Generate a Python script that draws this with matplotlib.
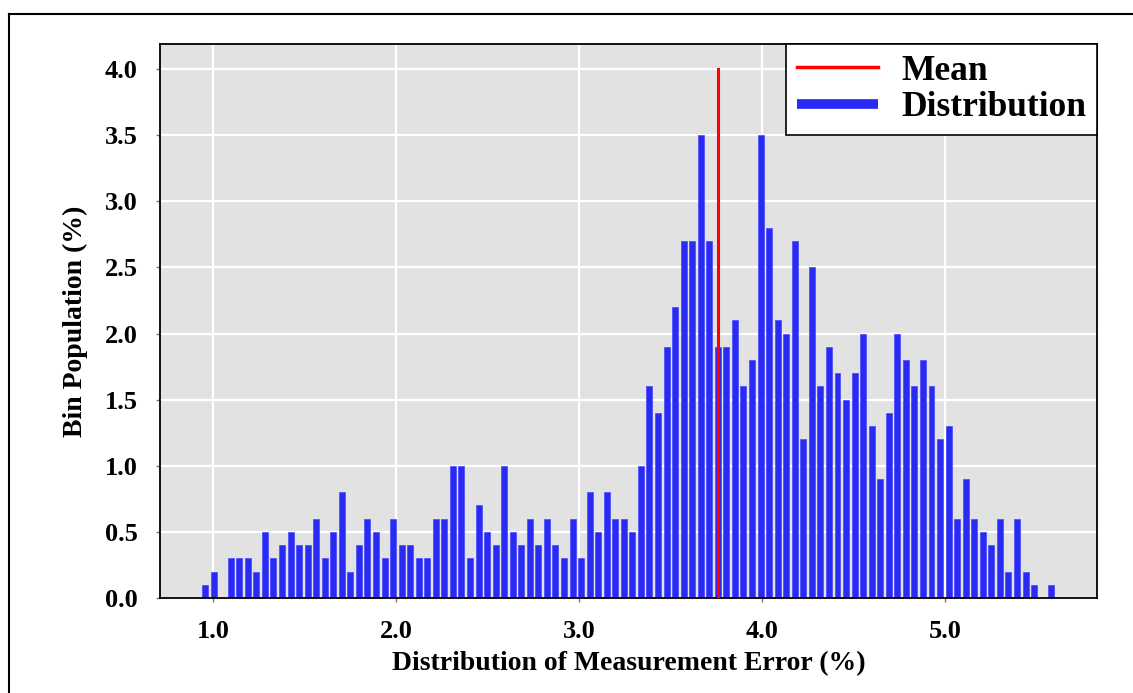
import matplotlib
matplotlib.use('Agg')
import matplotlib.pyplot as plt
from matplotlib.lines import Line2D
import numpy as np

# histogram of measurement error, 100 bins, heights in % of population
bin_start = 0.931
bin_width = 0.0467
bin_population = [
    0.1, 0.2, 0.0, 0.3, 0.3, 0.3, 0.2, 0.5, 0.3, 0.4,
    0.5, 0.4, 0.4, 0.6, 0.3, 0.5, 0.8, 0.2, 0.4, 0.6,
    0.5, 0.3, 0.6, 0.4, 0.4, 0.3, 0.3, 0.6, 0.6, 1.0,
    1.0, 0.3, 0.7, 0.5, 0.4, 1.0, 0.5, 0.4, 0.6, 0.4,
    0.6, 0.4, 0.3, 0.6, 0.3, 0.8, 0.5, 0.8, 0.6, 0.6,
    0.5, 1.0, 1.6, 1.4, 1.9, 2.2, 2.7, 2.7, 3.5, 2.7,
    1.9, 1.9, 2.1, 1.6, 1.8, 3.5, 2.8, 2.1, 2.0, 2.7,
    1.2, 2.5, 1.6, 1.9, 1.7, 1.5, 1.7, 2.0, 1.3, 0.9,
    1.4, 2.0, 1.8, 1.6, 1.8, 1.6, 1.2, 1.3, 0.6, 0.9,
    0.6, 0.5, 0.4, 0.6, 0.2, 0.6, 0.2, 0.1, 0.0, 0.1,
]
mean_error = 3.758
mean_height = 4.0

x_ticks = [1.0, 2.0, 3.0, 4.0, 5.0]
y_ticks = [0.0, 0.5, 1.0, 1.5, 2.0, 2.5, 3.0, 3.5, 4.0]

plt.rcParams['font.family'] = ['Liberation Serif', 'DejaVu Serif']
plt.rcParams['font.weight'] = 'bold'

fig = plt.figure(figsize=(11.33, 6.93), dpi=100)
ax = fig.add_axes([0.1412, 0.1371, 0.8270, 0.7994])
ax.set_facecolor('#e2e2e2')

centers = bin_start + bin_width * (np.arange(len(bin_population)) + 0.5)
ax.bar(centers, bin_population, width=bin_width * 0.7, color='#2a2af5',
       edgecolor='#4848ff', linewidth=0.5, zorder=2)
ax.plot([mean_error, mean_error], [0, mean_height], color='#ff0000', lw=2.2, zorder=3)

ax.set_xlim(0.708, 5.828)
ax.set_ylim(0, 4.19)
ax.set_xticks(x_ticks)
ax.set_yticks(y_ticks)
ax.set_xticklabels(['%.1f' % t for t in x_ticks])
ax.set_yticklabels(['%.1f' % t for t in y_ticks])
ax.tick_params(axis='both', labelsize=19, length=3, width=1, color='#777777', pad=13)
ax.grid(True, color='white', lw=1.6, zorder=0)
ax.set_axisbelow(True)
for sp in ax.spines.values():
    sp.set_color('black')
    sp.set_linewidth(1.3)

ax.set_xlabel('Distribution of Measurement Error (%)', fontsize=20, fontweight='bold', labelpad=6)
ax.set_ylabel('Bin Population (%)', fontsize=20, fontweight='bold', labelpad=12)

handles = [Line2D([], [], color='#ff0000', lw=2.5),
           Line2D([], [], color='#2a2af5', lw=7, solid_capstyle='butt')]
leg = ax.legend(handles, ['Mean', 'Distribution'], loc='upper right', fontsize=25.5,
                borderaxespad=0, fancybox=False, framealpha=1, edgecolor='black',
                handlelength=2.3, handletextpad=0.65, labelspacing=0.1, borderpad=0.3)
leg.get_frame().set_linewidth(1.2)

# outer frame of the figure panel (only top and left edges are visible)
fig.add_artist(Line2D([9 / 1133, 1.0], [1 - 14 / 693, 1 - 14 / 693], color='black', lw=1.5))
fig.add_artist(Line2D([9 / 1133, 9 / 1133], [0.0, 1 - 14 / 693], color='black', lw=1.5))

fig.savefig('out.png', dpi=100)
